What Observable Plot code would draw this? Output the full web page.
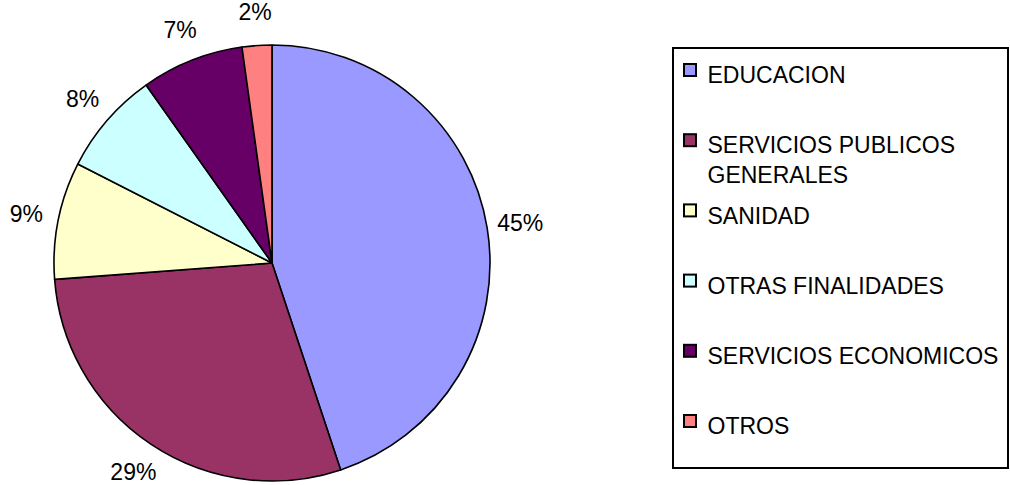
<!DOCTYPE html>
<html>
<head>
<meta charset="utf-8">
<script src="https://cdn.jsdelivr.net/npm/d3@7"></script>
<script src="https://cdn.jsdelivr.net/npm/@observablehq/plot@0.6"></script>
<style>
  html, body { margin: 0; padding: 0; background: #fff; }
  svg { display: block; }
</style>
</head>
<body>
<div id="chart"></div>
<script>
// ---- data ----
const categories = ["EDUCACION", "SERVICIOS PUBLICOS\nGENERALES", "SANIDAD", "OTRAS FINALIDADES", "SERVICIOS ECONOMICOS", "OTROS"];
const values = [44.9, 28.9, 8.7, 7.7, 7.6, 2.2];
const labels = ["45%", "29%", "9%", "8%", "7%", "2%"];
const colors = ["#9999FF", "#993366", "#FFFFCC", "#CCFFFF", "#660066", "#FF8080"];

// ---- layout ----
const W = 1010, H = 485;
const cx = 272, cy = 263, R = 218, labelR = 251;
const font = "Liberation Sans, Arial, Helvetica, sans-serif";

const arcs = d3.pie().sort(null).value(d => d)(values);
const slices = arcs.map((a, i) => {
  const mid = (a.startAngle + a.endAngle) / 2;
  return {
    name: categories[i], color: colors[i], label: labels[i],
    a,
    lx: cx + labelR * Math.sin(mid),
    ly: cy - labelR * Math.cos(mid)
  };
});

const legend = categories.map((c, i) => ({
  name: c, color: colors[i], cyRow: 70 + i * 70.2
}));

const arcGen = d3.arc().innerRadius(0).outerRadius(R);

function pieMark(index, scales) {
  const g = d3.create("svg:g");
  g.selectAll("path")
    .data(slices)
    .join("path")
    .attr("transform", `translate(${scales.x(cx)},${scales.y(cy)})`)
    .attr("d", d => arcGen(d.a))
    .attr("fill", d => d.color)
    .attr("stroke", "#000")
    .attr("stroke-width", 1.6)
    .attr("stroke-linejoin", "round");
  return g.node();
}

const chart = Plot.plot({
  width: W, height: H,
  margin: 0,
  x: {type: "identity", axis: null},
  y: {type: "identity", axis: null},
  style: {fontFamily: font, background: "#fff"},
  marks: [
    pieMark,
    Plot.text(slices, {
      x: "lx", y: "ly", text: "label",
      fontSize: 23, fill: "#000", fontFamily: font
    }),
    // legend frame
    Plot.rect([0], {
      x1: () => 673, x2: () => 1008, y1: () => 48, y2: () => 468,
      fill: "none", stroke: "#000", strokeWidth: 2
    }),
    Plot.rect(legend, {
      x1: () => 684, x2: () => 696,
      y1: d => d.cyRow - 6, y2: d => d.cyRow + 6,
      fill: "color", stroke: "#000", strokeWidth: 2
    }),
    Plot.text(legend, {
      x: () => 707, y: d => d.cyRow - 8.5, text: "name",
      textAnchor: "start", lineAnchor: "top", lineHeight: 1.3,
      fontSize: 23, fill: "#000", fontFamily: font
    })
  ]
});

document.getElementById("chart").appendChild(chart);
</script>
</body>
</html>
